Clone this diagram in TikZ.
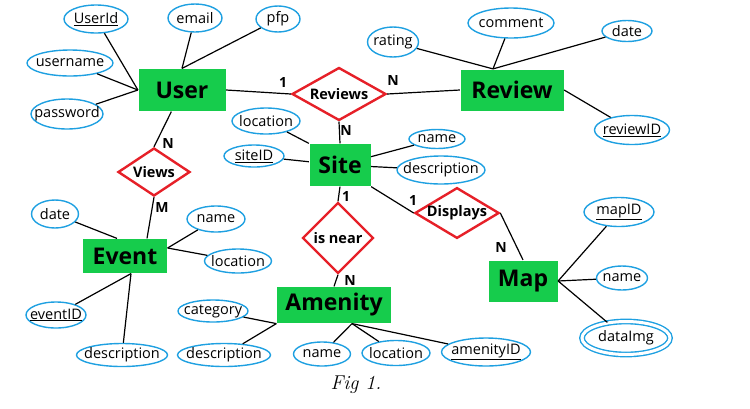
\documentclass[tikz,border=0pt]{standalone}
\usepackage{fontspec}
\setsansfont{Open Sans}
\usepackage{tikz}
\usetikzlibrary{shapes.geometric}

\definecolor{entgreen}{RGB}{22,204,76}
\definecolor{relred}{RGB}{230,32,40}
\definecolor{attblue}{RGB}{30,160,225}

\tikzset{
  attfont/.style={font=\sffamily\fontsize{14.5}{16}\selectfont},
  att/.style n args={3}{ellipse, draw=attblue, line width=1.4pt, inner sep=0pt,
    minimum width=#1, minimum height=#2, label={[attfont]center:#3}}
}

\begin{document}
\begin{tikzpicture}[x=1pt, y=-1pt, line width=1.2pt]
  \tikzstyle{ent}=[fill=entgreen, inner sep=0pt, font=\sffamily\bfseries\fontsize{23}{27}\selectfont]
  \tikzstyle{rel}=[diamond, draw=relred, line width=2.4pt, fill=white, inner sep=0pt, font=\sffamily\bfseries\fontsize{14.5}{17}\selectfont]
  \tikzstyle{card}=[inner sep=0pt, font=\sffamily\bfseries\fontsize{14}{16}\selectfont]

  \useasboundingbox (0,0) rectangle (750,408);

  % entities
  \node[ent, minimum width=87, minimum height=42] (User) at (182,90) {User};
  \node[ent, minimum width=103, minimum height=41] (Review) at (512,90) {Review};
  \node[ent, minimum width=61, minimum height=42] (Site) at (340,165) {Site};
  \node[ent, minimum width=84, minimum height=34] (Event) at (125,256) {Event};
  \node[ent, minimum width=114, minimum height=36] (Amenity) at (334,305) {Amenity};
  \node[ent, minimum width=69, minimum height=41] (Map) at (523,281) {Map};

  % relationships
  \node[rel, aspect=1.77, minimum width=94, minimum height=53] (reviews) at (339,94) {Reviews};
  \node[rel, aspect=1.5, minimum width=72, minimum height=48] (views) at (154,172) {Views};
  \node[rel, aspect=1, minimum width=71, minimum height=71] (isnear) at (338,238) {is near};
  \node[rel, aspect=1.66, minimum width=84, minimum height=50] (displays) at (457,213) {Displays};

  % attributes
  \node[att={64}{28}{\underline{UserId}}] (uid) at (96,19) {};
  \node[att={54}{28}{email}] (uemail) at (195,18) {};
  \node[att={44}{26}{pfp}] (upfp) at (278,19) {};
  \node[att={86}{26}{username}] (uname) at (70,63) {};
  \node[att={72}{30}{password}] (upass) at (67,114) {};

  \node[att={51}{30}{rating}] (rrating) at (393,42) {};
  \node[att={86}{30}{comment}] (rcomment) at (511,23) {};
  \node[att={50}{21}{date}] (rdate) at (627,31) {};
  \node[att={75}{29}{\underline{reviewID}}] (rid) at (632,130) {};

  \node[att={68}{26}{location}] (sloc) at (266,121) {};
  \node[att={60}{22}{\underline{siteID}}] (sid) at (254,156) {};
  \node[att={56}{19}{name}] (sname) at (437,139) {};
  \node[att={88}{28}{description}] (sdesc) at (441,170) {};

  \node[att={47}{28}{date}] (edate) at (55,214) {};
  \node[att={58}{26}{name}] (ename) at (216,219) {};
  \node[att={67}{24}{location}] (eloc) at (238,261) {};
  \node[att={60}{26}{\underline{eventID}}] (eid) at (56,315) {};
  \node[att={91}{23}{description}] (edesc) at (122,355) {};

  \node[att={70}{22}{category}] (acat) at (213,311) {};
  \node[att={93}{23}{description}] (adesc) at (224,355) {};
  \node[att={57}{24}{name}] (aname) at (322,354) {};
  \node[att={68}{25}{location}] (aloc) at (396,353) {};
  \node[att={89}{28}{\underline{amenityID}}] (aid) at (486,352) {};

  \node[att={70}{29}{\underline{mapID}}] (mid) at (619,212) {};
  \node[att={51}{24}{name}] (mname) at (622,278) {};
  \node[att={88}{33}{dataImg}, double=white, double distance=3pt] (mimg) at (626,338) {};

  % attribute lines
  \draw (uid) -- (User.west);
  \draw (uname) -- (User.west);
  \draw (upass) -- (User.west);
  \draw (uemail) -- (User.north);
  \draw (upfp) -- (User.north);

  \draw (rrating) -- (Review.132);
  \draw (rcomment) -- (Review.132);
  \draw (rdate) -- (Review.132);
  \draw (rid) -- (Review.east);

  \draw (sloc) -- (Site.north west);
  \draw (sid) -- (Site);
  \draw (sname) -- (Site);
  \draw (sdesc) -- (Site);

  \draw (edate) -- ([xshift=-8pt]Event.north);
  \draw (ename) -- ([yshift=8pt]Event.east);
  \draw (eloc) -- ([yshift=8pt]Event.east);
  \draw (eid) -- ([xshift=6pt]Event.south);
  \draw (edesc) -- ([xshift=6pt]Event.south);

  \draw (acat) -- (Amenity.south west);
  \draw (adesc) -- (Amenity.south west);
  \draw (aname) -- ([xshift=18pt]Amenity.south);
  \draw (aloc) -- ([xshift=18pt]Amenity.south);
  \draw (aid) -- ([xshift=18pt]Amenity.south);

  \draw (mid) -- (Map.east);
  \draw (mname) -- (Map.east);
  \draw (mimg) -- (Map.east);

  % relationship lines
  \draw (User.east) -- (reviews.west);
  \draw (reviews.east) -- (Review.west);
  \draw (reviews.south) -- (Site.north);
  \draw (views.north) -- (User);
  \draw (views.south) -- ([xshift=22pt]Event.north);
  \draw (Site.south) -- (isnear.north);
  \draw (isnear.south) -- (Amenity.north);
  \draw (Site.south east) -- (displays.west);
  \draw (displays.east) -- (Map.north);

  % cardinalities
  \node[card] (c1) at (283,82) {1};
  \node[card] (c2) at (393,80) {N};
  \node[card] (c3) at (346,130) {N};
  \node[card] (c4) at (168,143) {N};
  \node[card] (c5) at (162,207) {M};
  \node[card] (c6) at (346,196) {1};
  \node[card] (c7) at (350,280) {N};
  \node[card] (c8) at (413,200) {1};
  \node[card] (c9) at (501,247) {N};

  \node[font=\itshape\fontsize{20}{24}\selectfont] (cap) at (356,385) {Fig 1.};
\end{tikzpicture}
\end{document}
